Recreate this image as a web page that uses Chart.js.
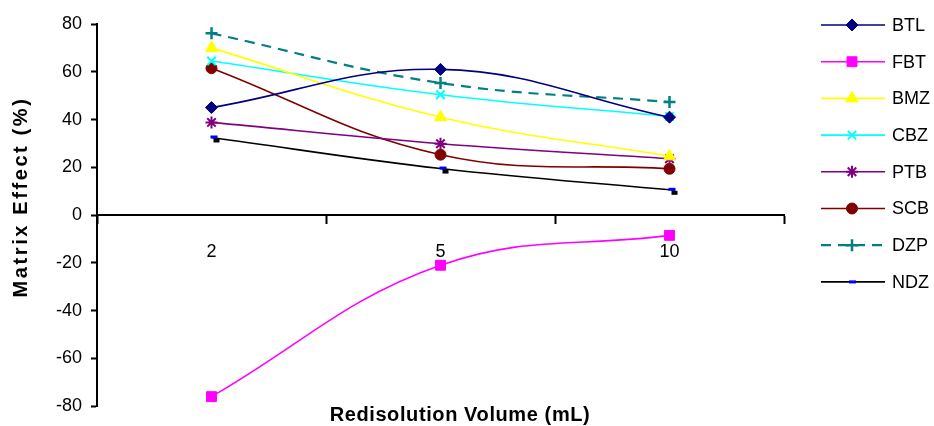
<!DOCTYPE html>
<html lang="en">
  <head>
    <meta charset="utf-8" />
    <script src="https://cdn.jsdelivr.net/npm/chart.js"></script>
    <style>
      html,
      body {
        margin: 0;
        padding: 0;
        background: #fff;
      }
      canvas {
        display: block;
      }
    </style>
    <title>Matrix Effect</title>
  </head>

  <body>
    <canvas id="myChart" width="934" height="426"></canvas>

    <script>
      // categories (redisolution volume, mL)
      const volumes = ["2", "5", "10"];

      // matrix effect (%)
      const btl = [45, 61, 41];
      const fbt = [-76, -21, -8.5];
      const bmz = [70, 41, 24.6];
      const cbz = [64.5, 50.4, 41.3];
      const ptb = [38.8, 29.9, 23.6];
      const scb = [61.5, 25.3, 19.4];
      const dzp = [76.1, 55.3, 47.3];
      const ndz = [32.5, 19.5, 10.6];

      const yTicks = [-80, -60, -40, -20, 0, 20, 40, 60, 80];

      const FONT = "'Liberation Sans', Arial, sans-serif";

      // blue dash with small black shadow (NDZ marker)
      function ndzMarker() {
        const c = document.createElement("canvas");
        c.width = 20;
        c.height = 20;
        const g = c.getContext("2d");
        g.fillStyle = "#0000ff";
        g.fillRect(9, 8, 7, 3);
        g.fillStyle = "#000000";
        g.fillRect(12, 11, 6, 4);
        return c;
      }

      function series(label, data, color, style, radius, extra) {
        return Object.assign(
          {
            label: label,
            data: data,
            borderColor: color,
            backgroundColor: color,
            pointBackgroundColor: color,
            pointBorderColor: color,
            pointStyle: style,
            pointRadius: radius,
            pointBorderWidth: 1,
            borderWidth: 1.6,
            tension: 0.4,
            fill: false,
          },
          extra || {}
        );
      }

      const datasets = [
        series("BTL", btl, "#000080", "rectRot", 6),
        series("FBT", fbt, "#ff00ff", "rect", 7),
        series("BMZ", bmz, "#ffff00", "triangle", 7),
        series("CBZ", cbz, "#00ffff", "crossRot", 6, { pointBorderWidth: 2 }),
        series("PTB", ptb, "#800080", "star", 6, { pointBorderWidth: 2 }),
        series("SCB", scb, "#800000", "circle", 5.5),
        series("DZP", dzp, "#008080", "cross", 6, {
          borderDash: [10, 7],
          borderWidth: 2.2,
          pointBorderWidth: 2.5,
        }),
        series("NDZ", ndz, "#000000", ndzMarker(), 5, {
          legendMarker: "#0000ff",
        }),
      ];

      // legend with line + marker, and the axis titles
      const extras = {
        id: "extras",
        afterDraw(chart) {
          const ctx = chart.ctx;
          ctx.save();

          // x title
          ctx.fillStyle = "#000";
          ctx.font = "bold 20px " + FONT;
          ctx.letterSpacing = "0.6px";
          ctx.textAlign = "center";
          ctx.textBaseline = "middle";
          ctx.fillText("Redisolution Volume (mL)", 460, 415);

          // y title
          ctx.save();
          ctx.translate(21, 197);
          ctx.rotate(-Math.PI / 2);
          ctx.letterSpacing = "2.6px";
          ctx.fillText("Matrix Effect (%)", 0, 0);
          ctx.restore();
          ctx.letterSpacing = "0px";

          // legend
          ctx.font = "18px " + FONT;
          ctx.textAlign = "left";
          chart.data.datasets.forEach((ds, i) => {
            const y = 25 + i * 36.7;
            ctx.save();
            ctx.strokeStyle = ds.borderColor;
            ctx.lineWidth = ds.borderWidth;
            ctx.setLineDash(ds.borderDash || []);
            ctx.beginPath();
            ctx.moveTo(821, y);
            ctx.lineTo(885, y);
            ctx.stroke();
            ctx.restore();

            ctx.save();
            if (ds.legendMarker) {
              ctx.fillStyle = ds.legendMarker;
              ctx.fillRect(849, y - 1.5, 7, 3);
            } else {
              ctx.fillStyle = ds.pointBackgroundColor;
              ctx.strokeStyle = ds.pointBorderColor;
              ctx.lineWidth = ds.pointBorderWidth;
              Chart.helpers.drawPoint(
                ctx,
                {
                  pointStyle: ds.pointStyle,
                  radius: ds.pointRadius,
                  rotation: 0,
                  borderWidth: ds.pointBorderWidth,
                },
                852,
                y
              );
            }
            ctx.restore();

            ctx.fillStyle = "#000";
            ctx.fillText(ds.label, 892, y + 1);
          });
          ctx.restore();
        },
      };

      const ctx = document.getElementById("myChart");
      window.myChart = new Chart(ctx, {
        type: "line",
        plugins: [extras],
        data: {
          labels: volumes,
          datasets: datasets,
        },
        options: {
          responsive: false,
          animation: false,
          layout: {
            padding: { top: 24, right: 150, bottom: 19, left: 0 },
          },
          plugins: {
            legend: { display: false },
            tooltip: { enabled: false },
          },
          scales: {
            x: {
              type: "category",
              position: { y: 0 },
              offset: true,
              grid: {
                offset: true,
                drawOnChartArea: false,
                drawTicks: true,
                tickLength: 8,
                tickWidth: 2,
                tickColor: "#000",
              },
              border: { display: true, color: "#000", width: 2 },
              ticks: {
                color: "#000",
                padding: 18,
                maxRotation: 0,
                font: { family: FONT, size: 18 },
              },
            },
            y: {
              min: -80,
              max: 80,
              afterFit(scale) {
                scale.width = 97;
              },
              afterBuildTicks(scale) {
                scale.ticks = yTicks.map((v) => ({ value: v }));
              },
              grid: {
                drawOnChartArea: false,
                tickLength: 6,
                tickWidth: 2,
                tickColor: "#000",
              },
              border: { display: true, color: "#000", width: 2 },
              ticks: {
                color: "#000",
                padding: 9,
                font: { family: FONT, size: 18 },
              },
            },
          },
        },
      });
    </script>
  </body>
</html>
